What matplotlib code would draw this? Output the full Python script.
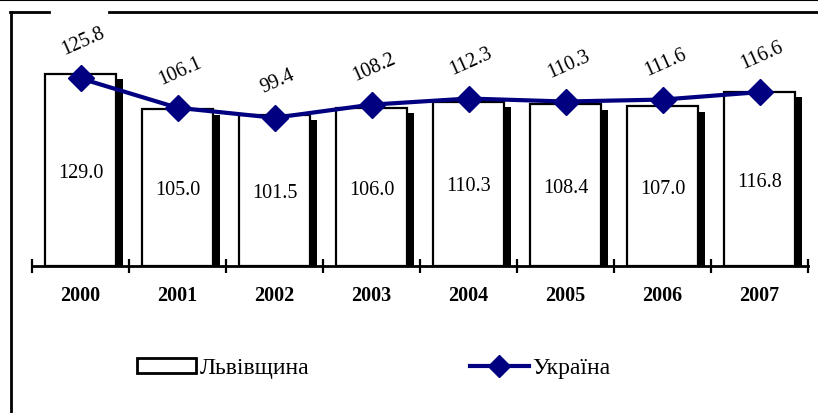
import matplotlib
matplotlib.use("Agg")
import matplotlib.pyplot as plt
from matplotlib.lines import Line2D
from matplotlib.patches import Patch
import numpy as np

# chart data
years = ["2000", "2001", "2002", "2003", "2004", "2005", "2006", "2007"]
lviv = [129.0, 105.0, 101.5, 106.0, 110.3, 108.4, 107.0, 116.8]
ukraine = [125.8, 106.1, 99.4, 108.2, 112.3, 110.3, 111.6, 116.6]

navy = "#000080"
plt.rcParams["font.family"] = ["Liberation Serif", "DejaVu Serif"]

W, H = 818, 414
fig = plt.figure(figsize=(W / 100, H / 100), dpi=100)
ax = fig.add_axes([32 / W, 1 - 267 / H, 776 / W, 255 / H])

x = np.arange(len(years))
bw = 0.73

# shadow bars behind the white bars
ax.bar(x + bw / 2 + 0.035, np.array(lviv) - 3.5, width=0.07, color="black", zorder=2)
ax.bar(x, lviv, width=bw, facecolor="white", edgecolor="black", linewidth=1.6, zorder=3)

for xi, v in zip(x, lviv):
    ax.text(xi, v / 2 - 1.5, f"{v:.1f}", ha="center", va="center", fontsize=14.5, zorder=4)

ax.plot(x, ukraine, color=navy, lw=3, marker="D", markersize=13, zorder=5, clip_on=False)
for xi, v in zip(x, ukraine):
    ax.annotate(f"{v:.1f}", (xi, v), xytext=(2, 27), textcoords="offset points",
                ha="center", va="center", rotation=24, fontsize=14.5)

ax.set_xlim(-0.5, 7.5)
ax.set_ylim(0, 171)
ax.set_yticks([])
for s in ["top", "left", "right"]:
    ax.spines[s].set_visible(False)
ax.spines["bottom"].set_linewidth(2)

ax.set_xticks(x)
ax.set_xticklabels(years, fontsize=14.5, fontweight="bold")
ax.tick_params(axis="x", which="major", length=0, pad=14)
ax.set_xticks(np.arange(-0.5, 8, 1), minor=True)
ax.tick_params(axis="x", which="minor", direction="inout", length=10, width=1.6)

# legend
handles = [Patch(facecolor="white", edgecolor="black", linewidth=2),
           Line2D([], [], color=navy, lw=3, marker="D", markersize=11)]
fs = 17
fig.legend(handles, ["Львівщина", "Україна"], loc="center left",
           bbox_to_anchor=((125 - 0.4 * fs * 100 / 72) / W, 1 - 369 / H),
           ncol=2, frameon=False, fontsize=fs, handlelength=2.5, handleheight=0.6,
           handletextpad=0.15, columnspacing=6.8)

# outer frame
fig.add_artist(Line2D([0, 1], [1 - 1 / H, 1 - 1 / H], color="black", lw=1.5))
fig.add_artist(Line2D([10 / W, 49 / W], [1 - 13 / H, 1 - 13 / H], color="black", lw=2))
fig.add_artist(Line2D([109 / W, 1], [1 - 13 / H, 1 - 13 / H], color="black", lw=2))
fig.add_artist(Line2D([11 / W, 11 / W], [1 - 13 / H, 0], color="black", lw=2))

fig.savefig("out.png", dpi=100)
